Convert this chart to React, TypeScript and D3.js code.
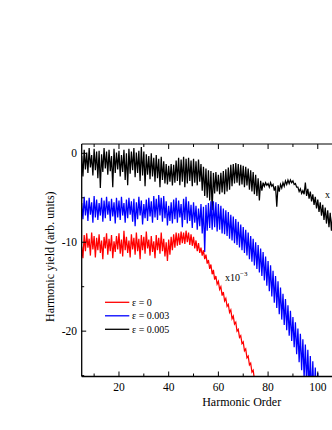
import React from "react";
import * as d3 from "d3";

const H_START = 5;
// [peak, trough] per harmonic order
const redHi = [-10.5,-9.2,-9.0,-9.6,-8.9,-9.3,-9.5,-9.1,-9.8,-9.4,-9.0,-9.6,-9.2,-9.9,-9.3,-9.0,-9.7,-8.7,-9.4,-9.8,-9.1,-9.5,-8.9,-9.6,-9.2,-9.4,-8.8,-9.7,-9.3,-9.9,-9.2,-9.5,-8.9,-9.6,-10.0,-9.7,-9.4,-9.1,-8.9,-9.0,-8.8,-8.9,-8.7,-8.9,-9.1,-9.4,-9.8,-10.1,-10.6,-10.9,-11.4,-12.0,-12.5,-13.1,-13.8,-14.4,-15.0,-15.6,-16.3,-17.0,-17.6,-18.3,-19.0,-19.8,-20.5,-21.2,-22.0,-22.8,-23.6,-24.4,-25.2];
const redLo = [-11.8,-11.0,-10.6,-11.5,-10.8,-11.7,-10.9,-11.2,-11.9,-10.7,-11.4,-11.0,-11.8,-11.1,-10.8,-11.3,-11.6,-10.9,-11.2,-11.7,-10.8,-11.4,-11.0,-11.9,-10.9,-11.3,-10.7,-11.5,-11.1,-11.8,-10.9,-11.3,-11.0,-11.6,-12.1,-11.4,-10.9,-10.6,-10.4,-10.3,-10.1,-10.2,-10.0,-10.3,-10.4,-10.7,-11.0,-11.2,-11.5,-11.9,-12.4,-13.0,-13.6,-14.2,-14.7,-15.3,-16.0,-16.6,-17.2,-17.9,-18.6,-19.2,-20.0,-20.7,-21.4,-22.2,-23.0,-23.8,-24.6,-25.4,-26.2];

const blueHi = [-5.6,-4.9,-5.3,-5.0,-5.5,-4.8,-5.2,-5.6,-5.0,-5.3,-4.9,-5.4,-5.1,-5.5,-5.0,-5.3,-4.9,-5.6,-5.2,-5.0,-5.4,-5.1,-5.5,-4.9,-5.3,-5.7,-5.2,-5.0,-5.4,-4.8,-5.1,-4.7,-5.0,-4.8,-5.4,-5.9,-5.5,-5.2,-5.0,-5.3,-5.7,-5.1,-4.9,-5.4,-5.8,-5.5,-5.9,-6.2,-5.7,-6.0,-5.8,-5.6,-5.4,-5.4,-5.5,-5.7,-5.9,-6.2,-6.4,-6.6,-6.9,-7.1,-7.4,-7.7,-8.0,-8.3,-8.6,-8.9,-9.3,-9.6,-10.0,-10.3,-10.7,-11.1,-11.6,-12.1,-12.6,-13.2,-13.8,-14.4,-15.1,-15.8,-16.4,-17.1,-17.7,-18.4,-19.0,-19.7,-20.3,-20.9,-21.5,-22.1,-22.8,-23.4,-24.1,-24.7,-25.4];
const blueLo = [-7.4,-7.0,-7.6,-6.9,-7.8,-7.2,-7.5,-7.0,-7.7,-7.3,-6.9,-7.6,-7.1,-7.9,-7.2,-7.5,-7.0,-7.8,-7.3,-6.9,-7.7,-8.2,-7.4,-7.0,-8.0,-7.3,-7.6,-7.1,-7.8,-7.2,-7.5,-7.0,-7.7,-7.3,-8.1,-7.6,-7.9,-7.4,-7.8,-7.2,-8.3,-7.5,-7.9,-7.6,-8.4,-7.8,-8.6,-8.2,-9.0,-11.1,-8.7,-8.4,-8.6,-8.3,-8.8,-8.6,-9.0,-9.1,-9.3,-9.6,-9.8,-10.1,-10.3,-10.6,-10.9,-11.2,-11.5,-11.9,-12.2,-12.6,-13.0,-13.4,-13.8,-14.3,-14.9,-15.5,-16.1,-16.8,-17.4,-18.1,-18.7,-19.3,-19.9,-20.5,-21.1,-21.8,-22.6,-23.5,-24.4,-25.3,-26.0,-26.7,-27.3,-27.9,-28.5,-29.1,-29.7];

const blackHi = [-0.3,0.4,0.1,0.6,-0.2,0.5,0.2,0.3,-0.1,0.6,0.2,0.4,-0.3,0.5,0.1,0.3,-0.2,0.4,0.0,0.5,0.2,0.6,0.1,0.3,0.7,0.2,-0.1,-0.3,0.0,-0.5,-0.2,-0.6,-0.4,-0.9,-1.2,-1.4,-1.2,-1.3,-0.8,-0.5,-0.7,-0.4,-0.6,-0.5,-0.8,-0.6,-0.9,-0.7,-1.2,-1.5,-1.7,-1.9,-2.0,-2.2,-2.1,-2.4,-2.2,-2.0,-1.8,-1.6,-1.3,-1.2,-1.1,-1.2,-1.3,-1.4,-1.5,-1.7,-1.9,-2.1,-2.4,-2.8,-3.1,-3.3,-3.3,-3.4,-3.3,-3.5,-3.7,-3.6,-3.5,-3.3,-3.1,-3.0,-3.0,-3.1,-3.4,-3.8,-4.0,-4.2,-3.3,-4.0,-4.3,-4.6,-4.9,-5.2,-5.5,-5.8,-6.1,-6.4,-6.7,-7.0,-7.3,-7.6,-7.9,-8.2];
const blackLo = [-2.6,-1.8,-2.2,-1.6,-2.5,-1.9,-2.8,-3.9,-2.1,-1.7,-2.4,-2.0,-3.8,-2.2,-1.8,-2.6,-2.1,-3.0,-3.6,-2.3,-1.9,-2.7,-2.2,-3.1,-2.5,-3.7,-2.4,-2.9,-2.6,-3.2,-2.8,-3.8,-3.0,-3.4,-3.5,-3.2,-3.6,-3.3,-3.1,-3.6,-3.2,-3.8,-3.4,-3.1,-3.7,-3.3,-3.6,-3.2,-4.2,-4.8,-5.0,-5.3,-6.4,-4.5,-4.3,-4.6,-4.4,-4.6,-4.3,-4.1,-3.7,-3.4,-3.3,-3.6,-3.5,-3.8,-3.6,-4.1,-4.3,-4.6,-4.8,-5.3,-4.2,-3.7,-3.6,-3.8,-3.7,-4.2,-6.0,-4.3,-3.9,-3.7,-3.5,-3.4,-3.3,-3.5,-3.8,-4.3,-4.5,-4.6,-4.8,-5.1,-5.4,-5.8,-6.2,-6.6,-7.0,-7.5,-7.9,-8.3,-8.7,-9.0,-9.3,-9.6,-9.9,-10.2];

const seriesNames = ["ε = 0", "ε = 0.003", "ε = 0.005"];
const seriesColors = ["#ff0000", "#0000ff", "#000000"];
const xMajorTicks = [20, 40, 60, 80, 100];
const xMinorTicks = [10, 30, 50, 70, 90, 110];
const yMajorTicks = [0, -10, -20];
const yMinorTicks = [-5, -15, -25];

const W = 332, H = 430;
const L = 81.7, T = 144, B = 376.5, R = 347.6;

function toPoints(hi: number[], lo: number[]): [number, number][] {
  const pts: [number, number][] = [];
  hi.forEach((v, i) => {
    pts.push([H_START + i, v]);
    pts.push([H_START + i + 0.5, lo[i]]);
  });
  return pts;
}

export default function App() {
  const x = d3.scaleLinear().domain([5, 112]).range([L, R]);
  const y = d3.scaleLinear().domain([1.05, -25.1]).range([T, B]);
  const line = d3.line<[number, number]>().x(d => x(d[0])).y(d => y(d[1]));
  const series = [toPoints(redHi, redLo), toPoints(blueHi, blueLo), toPoints(blackHi, blackLo)];
  const font = "'Liberation Serif', 'Times New Roman', serif";
  const order = [2, 1, 0];
  return (
    <svg width={W} height={H} style={{ position: "absolute", left: 0, top: 0, background: "#fff" }} fontFamily={font}>
      <defs>
        <clipPath id="plot"><rect x={L} y={T} width={R - L} height={B - T} /></clipPath>
      </defs>
      <g clipPath="url(#plot)">
        {order.map(i => (
          <path key={i} d={line(series[i]) || ""} fill="none" stroke={seriesColors[i]} strokeWidth={1.25} strokeLinejoin="miter" />
        ))}
      </g>
      {/* frame */}
      <line x1={L} x2={R} y1={T} y2={T} stroke="#000" strokeWidth={1} />
      <line x1={L} x2={R} y1={B} y2={B} stroke="#000" strokeWidth={1.3} />
      <line x1={L} x2={L} y1={T} y2={B} stroke="#000" strokeWidth={1.3} />
      {/* x ticks */}
      {xMajorTicks.map(t => (
        <g key={"xm" + t}>
          <line x1={x(t)} x2={x(t)} y1={B} y2={B - 5} stroke="#000" />
          <line x1={x(t)} x2={x(t)} y1={T} y2={T + 5} stroke="#000" />
          <text x={x(t)} y={391} fontSize={11.5} textAnchor="middle">{t}</text>
        </g>
      ))}
      {xMinorTicks.map(t => (
        <g key={"xn" + t}>
          <line x1={x(t)} x2={x(t)} y1={B} y2={B - 3} stroke="#000" />
          <line x1={x(t)} x2={x(t)} y1={T} y2={T + 3} stroke="#000" />
        </g>
      ))}
      {yMajorTicks.map(t => (
        <g key={"ym" + t}>
          <line x1={L} x2={L + 4.5} y1={y(t)} y2={y(t)} stroke="#000" />
          <text x={77} y={y(t) + 4} fontSize={11.5} textAnchor="end">{t}</text>
        </g>
      ))}
      {yMinorTicks.map(t => (
        <line key={"yn" + t} x1={L} x2={L + 2.5} y1={y(t)} y2={y(t)} stroke="#000" />
      ))}
      <text x={241.7} y={406} fontSize={12} textAnchor="middle">Harmonic Order</text>
      <text transform="translate(54,256.7) rotate(-90)" fontSize={12} textAnchor="middle">Harmonic yield (arb. units)</text>
      {/* legend */}
      {seriesNames.map((n, i) => (
        <g key={n}>
          <line x1={105} x2={129.3} y1={302.3 + i * 13.5} y2={302.3 + i * 13.5} stroke={seriesColors[i]} strokeWidth={1.3} />
          <text x={132} y={302.3 + i * 13.5 + 3.5} fontSize={10}>{n}</text>
        </g>
      ))}
      <text x={225} y={281} fontSize={10}>x10<tspan dy={-5} fontSize={7}>−3</tspan></text>
      <text x={325} y={198} fontSize={10}>x</text>
    </svg>
  );
}
